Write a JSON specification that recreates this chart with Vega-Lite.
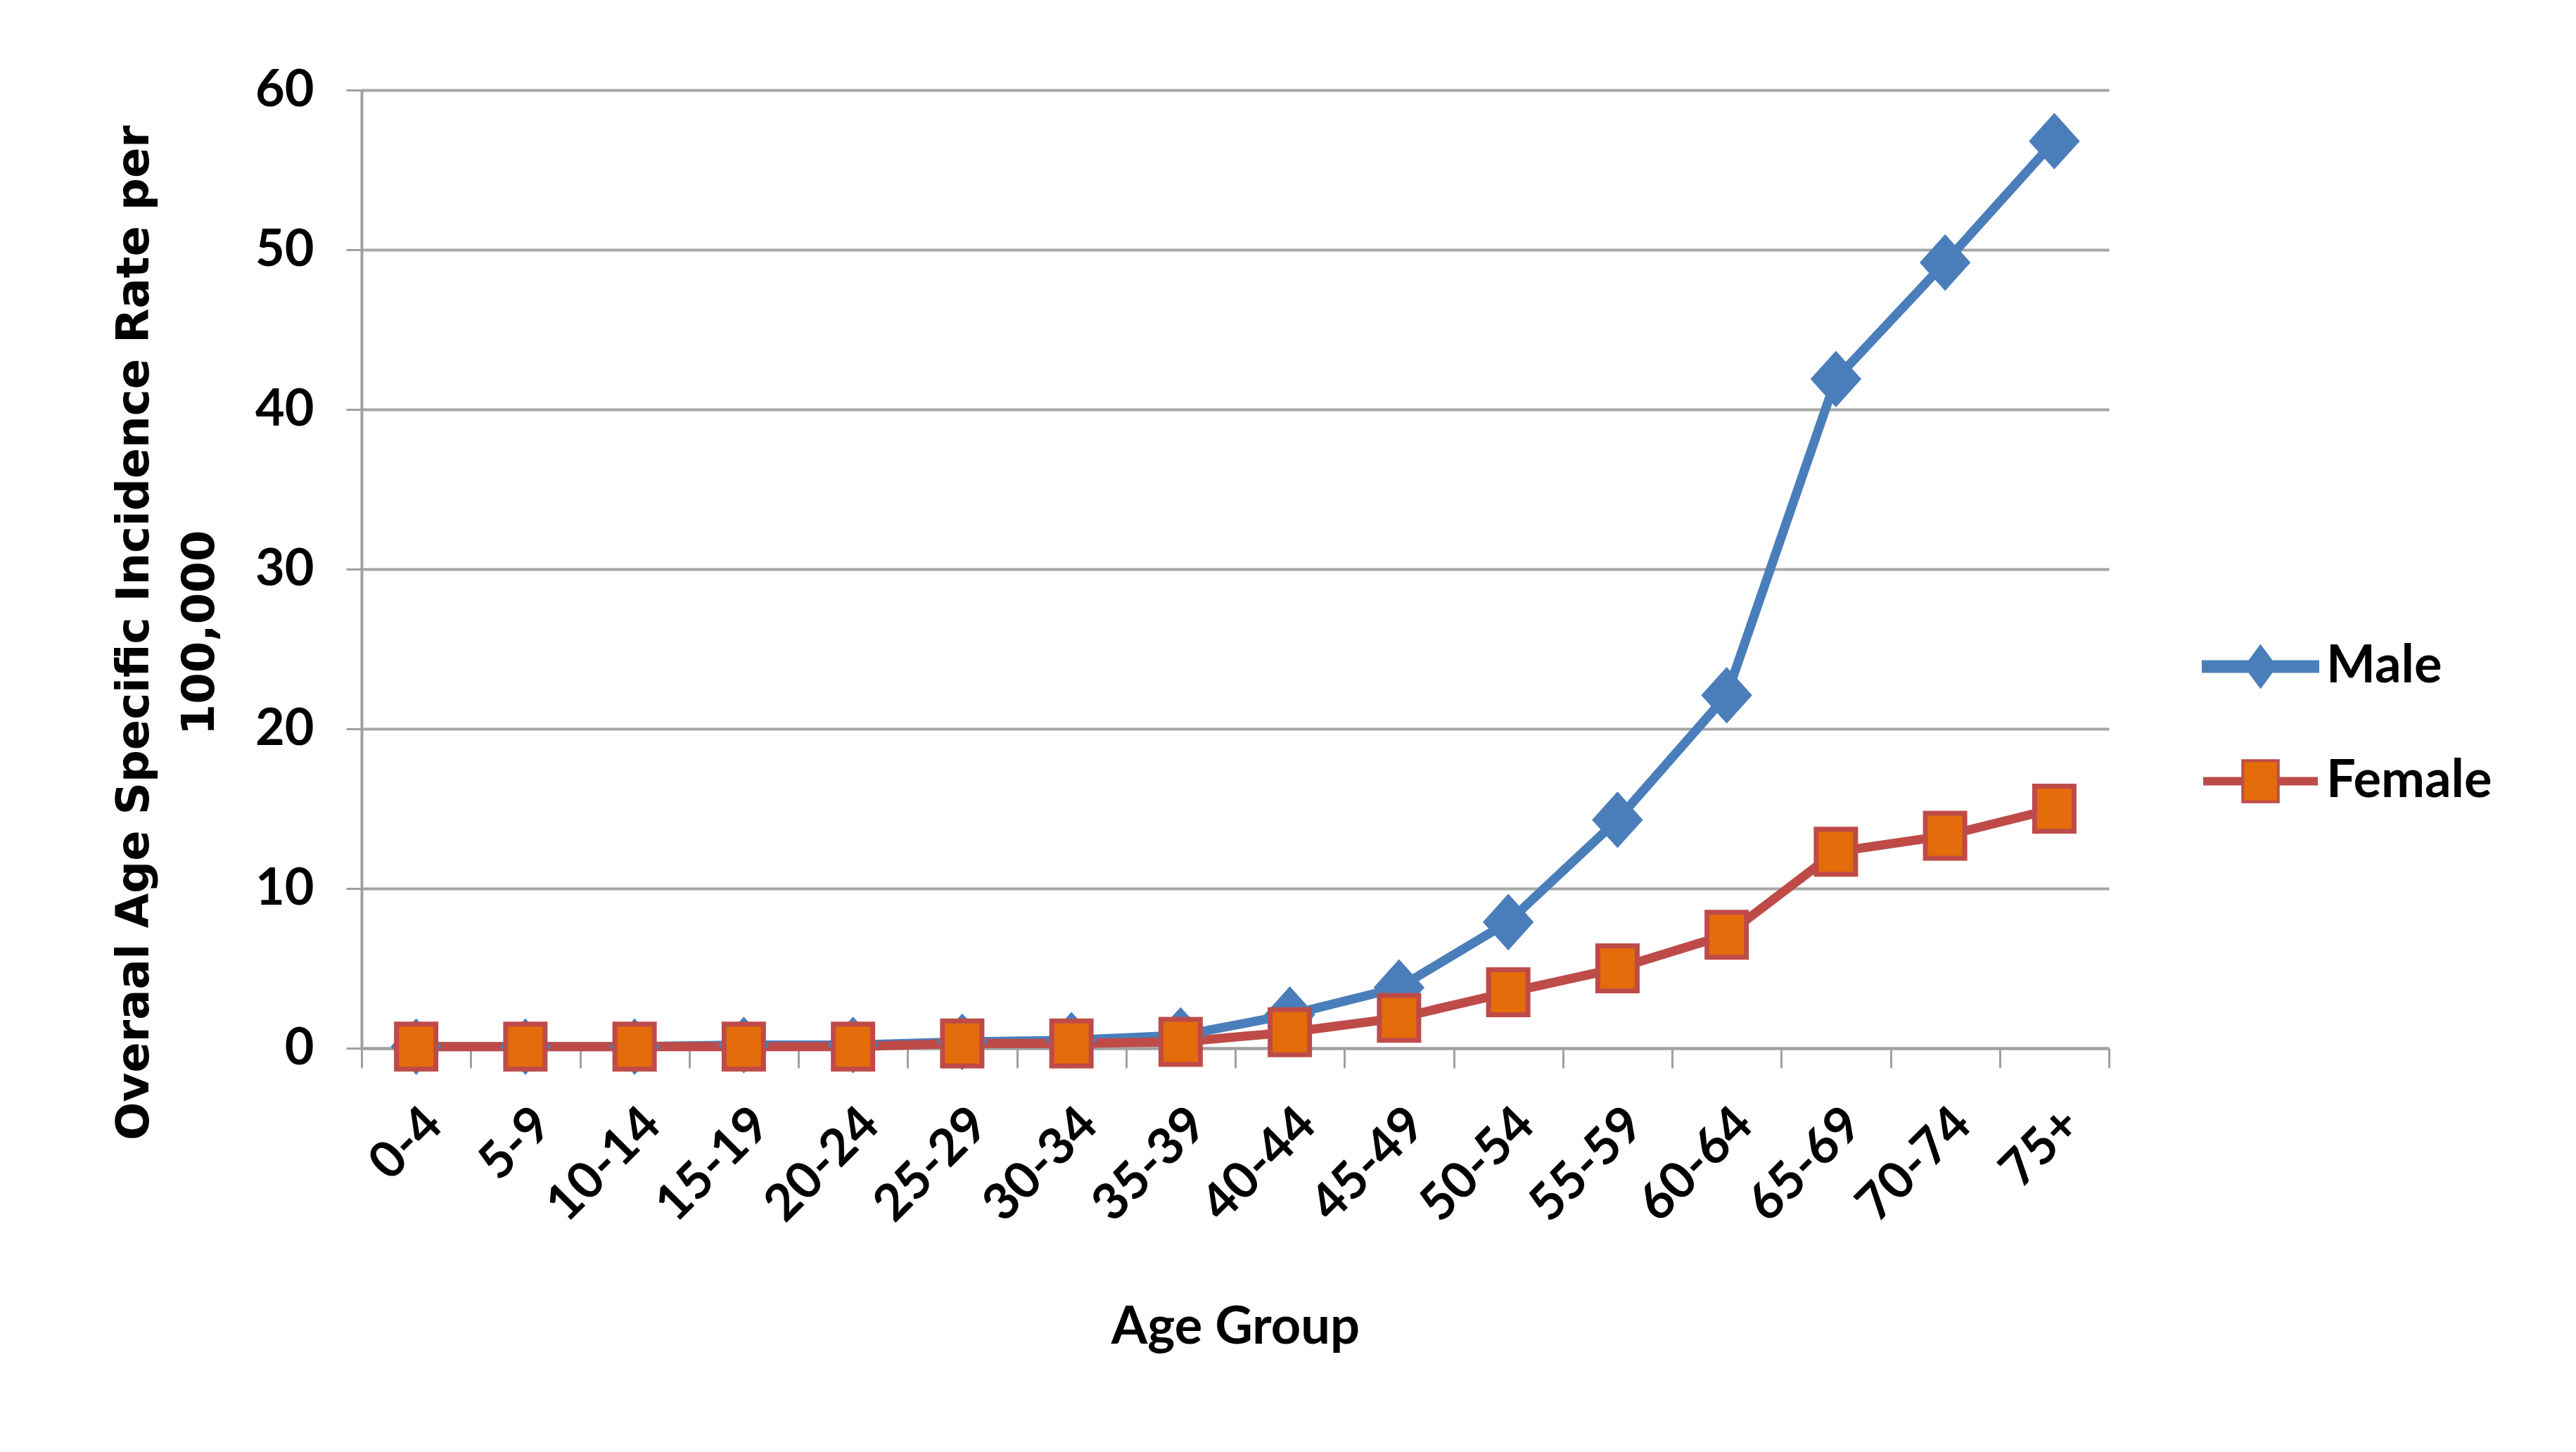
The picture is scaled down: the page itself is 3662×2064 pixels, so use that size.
{
  "$schema": "https://vega.github.io/schema/vega-lite/v6.json",
  "width": 2484,
  "height": 1362,
  "autosize": {"type": "none"},
  "padding": {"left": 514, "top": 128, "right": 664, "bottom": 574},
  "background": "white",
  "data": {
    "values": [
      {"age": "0-4", "series": "Male", "rate": 0.1},
      {"age": "5-9", "series": "Male", "rate": 0.1},
      {"age": "10-14", "series": "Male", "rate": 0.1},
      {"age": "15-19", "series": "Male", "rate": 0.2},
      {"age": "20-24", "series": "Male", "rate": 0.2},
      {"age": "25-29", "series": "Male", "rate": 0.4},
      {"age": "30-34", "series": "Male", "rate": 0.5},
      {"age": "35-39", "series": "Male", "rate": 0.8},
      {"age": "40-44", "series": "Male", "rate": 2.1},
      {"age": "45-49", "series": "Male", "rate": 3.8},
      {"age": "50-54", "series": "Male", "rate": 7.9},
      {"age": "55-59", "series": "Male", "rate": 14.3},
      {"age": "60-64", "series": "Male", "rate": 22.1},
      {"age": "65-69", "series": "Male", "rate": 41.9},
      {"age": "70-74", "series": "Male", "rate": 49.2},
      {"age": "75+", "series": "Male", "rate": 56.8},
      {"age": "0-4", "series": "Female", "rate": 0.1},
      {"age": "5-9", "series": "Female", "rate": 0.1},
      {"age": "10-14", "series": "Female", "rate": 0.1},
      {"age": "15-19", "series": "Female", "rate": 0.1},
      {"age": "20-24", "series": "Female", "rate": 0.1},
      {"age": "25-29", "series": "Female", "rate": 0.3},
      {"age": "30-34", "series": "Female", "rate": 0.3},
      {"age": "35-39", "series": "Female", "rate": 0.4},
      {"age": "40-44", "series": "Female", "rate": 1.0},
      {"age": "45-49", "series": "Female", "rate": 1.9},
      {"age": "50-54", "series": "Female", "rate": 3.5},
      {"age": "55-59", "series": "Female", "rate": 5.0},
      {"age": "60-64", "series": "Female", "rate": 7.1},
      {"age": "65-69", "series": "Female", "rate": 12.3},
      {"age": "70-74", "series": "Female", "rate": 13.3},
      {"age": "75+", "series": "Female", "rate": 15.0}
    ]
  },
  "encoding": {
    "x": {
      "field": "age",
      "type": "nominal",
      "sort": null,
      "scale": {"type": "band", "paddingInner": 0, "paddingOuter": 0},
      "axis": {
        "title": "Age Group",
        "titleFont": "Lato",
        "titleFontSize": 74,
        "titleFontWeight": "bold",
        "titleColor": "black",
        "titleY": 397,
        "titleBaseline": "middle",
        "labelAngle": -45,
        "labelFont": "Lato",
        "labelFontSize": 72,
        "labelFontWeight": "bold",
        "labelColor": "black",
        "labelPadding": 44,
        "labelLimit": 0,
        "tickBand": "extent",
        "tickSize": 28,
        "tickWidth": 3,
        "tickColor": "#A0A0A0",
        "domainColor": "#A0A0A0",
        "domainWidth": 4,
        "grid": false
      }
    },
    "y": {
      "field": "rate",
      "type": "quantitative",
      "scale": {"domain": [0, 60]},
      "axis": {
        "values": [0, 10, 20, 30, 40, 50, 60],
        "title": ["Overaal Age Specific Incidence Rate per", "100,000"],
        "titleFont": "DejaVu Sans",
        "titleFontSize": 64,
        "titleFontWeight": "bold",
        "titleColor": "black",
        "titleLineHeight": 93,
        "titleAngle": 270,
        "titleAlign": "center",
        "titleBaseline": "alphabetic",
        "titleX": -304,
        "titleY": 771,
        "labelFont": "Lato",
        "labelFontSize": 72,
        "labelFontWeight": "bold",
        "labelColor": "black",
        "labelPadding": 46,
        "tickSize": 22,
        "tickWidth": 3,
        "tickColor": "#A0A0A0",
        "domainColor": "#A0A0A0",
        "domainWidth": 4,
        "grid": true,
        "gridColor": "#A6A6A6",
        "gridWidth": 4
      }
    }
  },
  "layer": [
    {
      "mark": {"type": "line", "strokeWidth": 13, "strokeJoin": "round", "strokeCap": "round"},
      "encoding": {
        "stroke": {
          "field": "series",
          "type": "nominal",
          "scale": {"domain": ["Male", "Female"], "range": ["#4A7EBB", "#BE4B48"]},
          "legend": {
            "title": null,
            "orient": "none",
            "legendX": 2616,
            "legendY": 736,
            "padding": 0,
            "rowPadding": 42,
            "symbolSize": 26569,
            "labelOffset": 10,
            "labelFont": "Lato",
            "labelFontSize": 74,
            "labelFontWeight": "bold",
            "labelColor": "black",
            "labelLimit": 0,
            "encode": {
              "symbols": {
                "update": {
                  "shape": {"signal": "datum.value === 'Male' ? 'M-1,-0.086H1V0.086H-1ZM0,-0.35L0.26,0L0,0.35L-0.26,0Z' : 'M-1,-0.05H-0.31M-1,0H-0.31M-1,0.05H-0.31M0.31,-0.05H1M0.31,0H1M0.31,0.05H1M-0.31,-0.36H0.31V0.36H-0.31Z'"},
                  "fill": {"signal": "datum.value === 'Male' ? '#4A7EBB' : '#E46C0A'"},
                  "stroke": {"signal": "datum.value === 'Male' ? '#4A7EBB' : '#BE4B48'"},
                  "strokeWidth": {"value": 4},
                  "size": {"value": 26569},
                  "opacity": {"value": 1}
                }
              }
            }
          }
        }
      }
    },
    {
      "transform": [{"filter": "datum.series === 'Male'"}],
      "mark": {"type": "point", "filled": true, "opacity": 1, "strokeWidth": 7, "size": 4900, "shape": "M0,-1L0.9,0L0,1L-0.9,0Z"},
      "encoding": {
        "fill": {
          "field": "series",
          "type": "nominal",
          "scale": {"domain": ["Male", "Female"], "range": ["#4A7EBB", "#E46C0A"]},
          "legend": {
            "title": null,
            "orient": "none",
            "legendX": 2616,
            "legendY": 736,
            "padding": 0,
            "rowPadding": 42,
            "symbolSize": 26569,
            "labelOffset": 10,
            "labelFont": "Lato",
            "labelFontSize": 74,
            "labelFontWeight": "bold",
            "labelColor": "black",
            "labelLimit": 0,
            "encode": {
              "symbols": {
                "update": {
                  "shape": {"signal": "datum.value === 'Male' ? 'M-1,-0.086H1V0.086H-1ZM0,-0.35L0.26,0L0,0.35L-0.26,0Z' : 'M-1,-0.05H-0.31M-1,0H-0.31M-1,0.05H-0.31M0.31,-0.05H1M0.31,0H1M0.31,0.05H1M-0.31,-0.36H0.31V0.36H-0.31Z'"},
                  "fill": {"signal": "datum.value === 'Male' ? '#4A7EBB' : '#E46C0A'"},
                  "stroke": {"signal": "datum.value === 'Male' ? '#4A7EBB' : '#BE4B48'"},
                  "strokeWidth": {"value": 4},
                  "size": {"value": 26569},
                  "opacity": {"value": 1}
                }
              }
            }
          }
        },
        "stroke": {"field": "series", "type": "nominal"}
      }
    },
    {
      "transform": [{"filter": "datum.series === 'Female'"}],
      "mark": {"type": "point", "filled": true, "opacity": 1, "strokeWidth": 7, "size": 4900, "shape": "M-0.8,-0.914H0.8V0.914H-0.8Z"},
      "encoding": {
        "fill": {"field": "series", "type": "nominal"},
        "stroke": {"field": "series", "type": "nominal"}
      }
    }
  ],
  "config": {
    "view": {"stroke": null},
    "axis": {"labelOverlap": false}
  }
}
